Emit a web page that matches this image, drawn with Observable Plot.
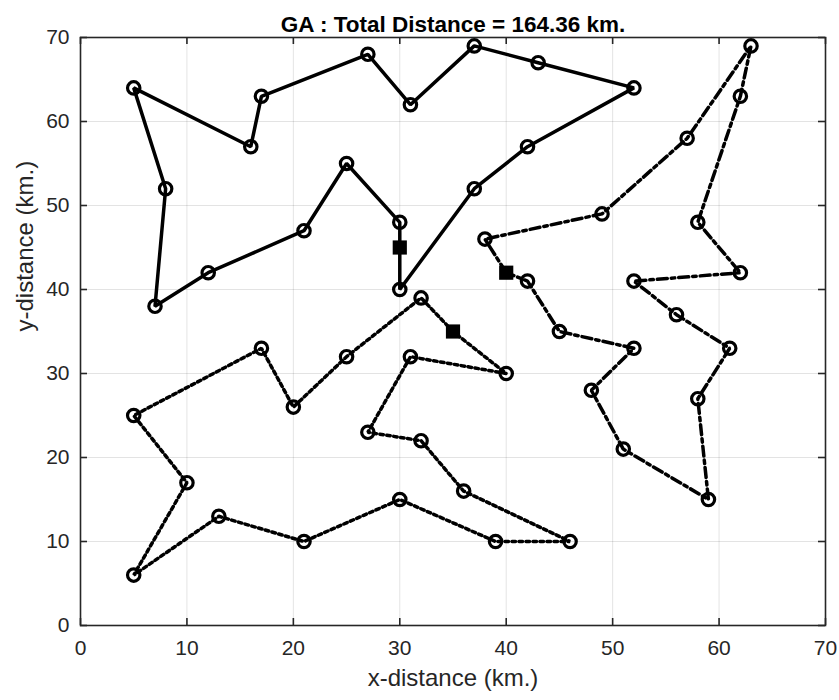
<!DOCTYPE html>
<html><head><meta charset="utf-8">
<script src="https://cdn.jsdelivr.net/npm/d3@7"></script>
<script src="https://cdn.jsdelivr.net/npm/@observablehq/plot@0.6"></script>
<style>body{margin:0;background:#fff;}</style>
</head><body><div id="chart"></div>
<script>
const title = "GA : Total Distance = 164.36 km.";
const xLabel = "x-distance (km.)";
const yLabel = "y-distance (km.)";
const xTicks = [0, 10, 20, 30, 40, 50, 60, 70];
const yTicks = [0, 10, 20, 30, 40, 50, 60, 70];
const depots = [[30, 45], [40, 42], [35, 35]];
const route1 = [[30,45],[30,48],[25,55],[21,47],[12,42],[7,38],[8,52],[5,64],[16,57],[17,63],[27,68],[31,62],[37,69],[43,67],[52,64],[42,57],[37,52],[30,40],[30,45]];
const route2 = [[40,42],[38,46],[49,49],[57,58],[63,69],[62,63],[58,48],[62,42],[52,41],[56,37],[61,33],[58,27],[59,15],[51,21],[48,28],[52,33],[45,35],[42,41],[40,42]];
const route3 = [[35,35],[32,39],[25,32],[20,26],[17,33],[5,25],[10,17],[5,6],[13,13],[21,10],[30,15],[39,10],[46,10],[36,16],[32,22],[27,23],[31,32],[40,30],[35,35]];

const W = 839, H = 700, ML = 80, MR = 14, MT = 37, MB = 75, TICK = 7;
const frameW = W - ML - MR, frameH = H - MT - MB;
const X = d => d[0], Y = d => d[1], I = d => d;
const line = (data, dash) => Plot.line(data, {x: X, y: Y, stroke: "#000", strokeWidth: 3.5, strokeDasharray: dash, strokeLinejoin: "miter"});
const dots = data => Plot.dot(data.slice(1, -1), {x: X, y: Y, r: 6.2, stroke: "#000", strokeWidth: 3.2, fill: "none"});
const axisColor = "#262626";
const tickStyle = {stroke: axisColor, strokeWidth: 1.6};

const chart = Plot.plot({
  width: W, height: H,
  marginLeft: ML, marginRight: MR, marginTop: MT, marginBottom: MB,
  x: {domain: [0, 70]},
  y: {domain: [0, 70]},
  style: {fontFamily: "'Liberation Sans', Arial, sans-serif", fontSize: "21px", color: axisColor, background: "#fff", overflow: "visible"},
  marks: [
    Plot.gridX(xTicks, {stroke: "#000", strokeOpacity: 0.11, strokeWidth: 1}),
    Plot.gridY(yTicks, {stroke: "#000", strokeOpacity: 0.11, strokeWidth: 1}),
    line(route1, null),
    line(route2, "10,4,3.5,4"),
    line(route3, "3.5,3.5"),
    dots(route1), dots(route2), dots(route3),
    Plot.dot(depots, {x: X, y: Y, symbol: "square", r: 8, fill: "#000"}),
    Plot.axisX(xTicks, {anchor: "bottom", tickSize: 0, tickPadding: 15, label: null, fill: axisColor, fontSize: 21}),
    Plot.axisY(yTicks, {anchor: "left", tickSize: 0, tickPadding: 11, label: null, fill: axisColor, fontSize: 21}),
    Plot.tickX(xTicks, {x: I, insetTop: frameH - TICK, ...tickStyle}),
    Plot.tickX(xTicks, {x: I, insetBottom: frameH - TICK, ...tickStyle}),
    Plot.tickY(yTicks, {y: I, insetRight: frameW - TICK, ...tickStyle}),
    Plot.tickY(yTicks, {y: I, insetLeft: frameW - TICK, ...tickStyle}),
    Plot.frame({stroke: axisColor, strokeWidth: 1.6}),
    Plot.text([title], {text: I, frameAnchor: "top", dy: -21, fontWeight: "bold", fontSize: 22.5, fill: "#000"}),
    Plot.text([xLabel], {text: I, frameAnchor: "bottom", dy: 60, fontSize: 24, fill: axisColor}),
    Plot.text([yLabel], {text: I, frameAnchor: "left", dx: -55, rotate: -90, fontSize: 24, fill: axisColor})
  ]
});
document.getElementById("chart").appendChild(chart);
</script>
</body></html>
